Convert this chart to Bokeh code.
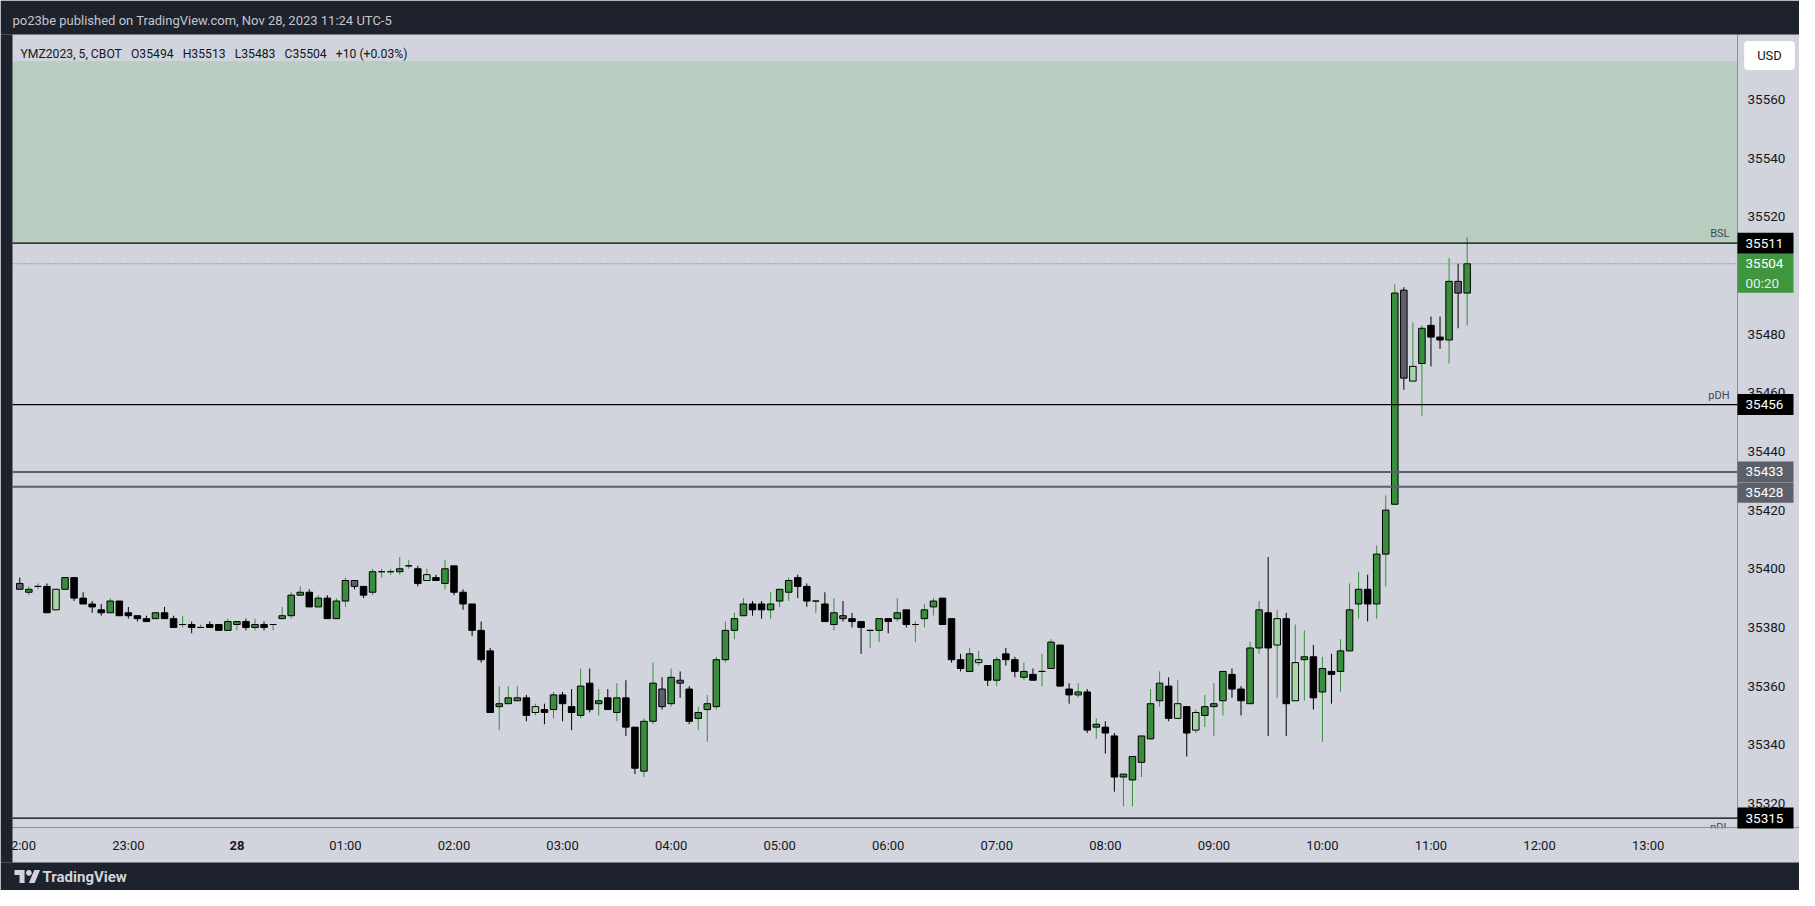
import numpy as np
import pandas as pd
from bokeh.plotting import figure
from bokeh.models import (ColumnDataSource, BoxAnnotation, Label, PolyAnnotation,
                          FixedTicker, DatetimeTickFormatter, Range1d)
from bokeh.core.properties import value
from bokeh.embed import file_html
from bokeh.resources import INLINE

# ---------------- data (YM Dec 2023, 5-minute bars) ----------------
open_p = [35395, 35392, 35394, 35394, 35386, 35393, 35397, 35390, 35388, 35386,
          35385, 35389, 35385, 35384, 35383, 35383, 35385, 35383, 35381, 35381,
          35380, 35381, 35381, 35379, 35381, 35382, 35380, 35381, 35381, 35383,
          35384, 35391, 35392, 35387, 35390, 35383, 35389, 35396, 35394, 35392,
          35399, 35399, 35399, 35401, 35400, 35396, 35397, 35395, 35401, 35392,
          35388, 35379, 35372, 35353, 35354, 35355, 35356, 35351, 35352, 35352,
          35357, 35353, 35350, 35361, 35354, 35356, 35351, 35356, 35346, 35331,
          35348, 35359, 35354, 35362, 35359, 35349, 35352, 35353, 35369, 35379,
          35384, 35388, 35388, 35386, 35389, 35392, 35397, 35394, 35389, 35388,
          35381, 35384, 35383, 35382, 35379, 35379, 35383, 35383, 35386, 35381,
          35383, 35387, 35390, 35383, 35369, 35365, 35368, 35367, 35362, 35371,
          35369, 35363, 35364, 35365, 35366, 35374, 35359, 35357, 35358, 35346,
          35346, 35343, 35329, 35328, 35334, 35342, 35355, 35360, 35349, 35353,
          35345, 35350, 35353, 35355, 35364, 35359, 35354, 35373, 35385, 35374,
          35383, 35355, 35369, 35370, 35358, 35365, 35365, 35372, 35388, 35393,
          35388, 35405, 35422, 35495, 35464, 35470, 35483, 35479, 35478, 35498,
          35494]
high_p = [35397, 35394, 35395, 35395, 35393, 35397, 35397, 35392, 35389, 35388,
          35390, 35389, 35387, 35384, 35384, 35385, 35387, 35384, 35384, 35382,
          35381, 35382, 35381, 35383, 35382, 35383, 35383, 35382, 35381, 35387,
          35392, 35394, 35393, 35391, 35391, 35390, 35397, 35396, 35394, 35400,
          35400, 35400, 35404, 35403, 35401, 35400, 35398, 35403, 35401, 35393,
          35388, 35382, 35373, 35360, 35360, 35360, 35357, 35354, 35354, 35358,
          35358, 35359, 35366, 35366, 35359, 35359, 35361, 35362, 35346, 35349,
          35368, 35363, 35366, 35365, 35360, 35353, 35357, 35370, 35382, 35385,
          35390, 35389, 35389, 35392, 35393, 35397, 35398, 35395, 35389, 35392,
          35390, 35389, 35385, 35382, 35379, 35383, 35383, 35390, 35386, 35382,
          35388, 35390, 35390, 35383, 35371, 35373, 35372, 35367, 35370, 35373,
          35370, 35368, 35366, 35371, 35376, 35374, 35361, 35361, 35359, 35349,
          35348, 35344, 35330, 35336, 35343, 35359, 35365, 35363, 35362, 35353,
          35352, 35357, 35361, 35365, 35366, 35360, 35375, 35389, 35404, 35386,
          35385, 35381, 35379, 35374, 35370, 35371, 35376, 35395, 35399, 35398,
          35408, 35425, 35497, 35496, 35484, 35483, 35486, 35486, 35506, 35504,
          35513]
low_p = [35393, 35391, 35393, 35385, 35386, 35393, 35389, 35388, 35385, 35384,
         35385, 35384, 35383, 35382, 35382, 35383, 35383, 35380, 35380, 35378,
         35380, 35380, 35379, 35379, 35379, 35379, 35379, 35379, 35379, 35383,
         35383, 35391, 35387, 35387, 35383, 35383, 35387, 35393, 35390, 35391,
         35397, 35398, 35398, 35400, 35394, 35396, 35396, 35393, 35391, 35386,
         35377, 35368, 35351, 35345, 35354, 35355, 35348, 35350, 35347, 35349,
         35348, 35345, 35349, 35351, 35350, 35352, 35348, 35343, 35330, 35329,
         35347, 35352, 35353, 35356, 35347, 35345, 35341, 35352, 35368, 35376,
         35384, 35384, 35383, 35383, 35387, 35389, 35390, 35387, 35385, 35382,
         35379, 35382, 35380, 35371, 35373, 35375, 35378, 35382, 35380, 35375,
         35380, 35384, 35381, 35368, 35365, 35365, 35367, 35360, 35360, 35367,
         35363, 35362, 35362, 35360, 35366, 35360, 35354, 35356, 35344, 35342,
         35337, 35324, 35319, 35319, 35329, 35342, 35353, 35348, 35349, 35336,
         35344, 35346, 35343, 35350, 35356, 35350, 35354, 35371, 35343, 35356,
         35343, 35355, 35355, 35352, 35341, 35354, 35358, 35372, 35383, 35382,
         35383, 35394, 35422, 35461, 35464, 35452, 35469, 35475, 35470, 35482,
         35483]
close_p = [35393, 35393, 35394, 35385, 35393, 35397, 35390, 35388, 35387, 35385,
           35389, 35384, 35384, 35383, 35382, 35385, 35383, 35380, 35381, 35380,
           35380, 35380, 35379, 35382, 35382, 35380, 35381, 35380, 35381, 35384,
           35391, 35392, 35387, 35390, 35383, 35389, 35396, 35394, 35391, 35399,
           35399, 35399, 35400, 35401, 35395, 35398, 35396, 35400, 35392, 35388,
           35379, 35369, 35351, 35354, 35356, 35356, 35350, 35353, 35351, 35357,
           35354, 35351, 35360, 35352, 35355, 35352, 35356, 35346, 35332, 35348,
           35361, 35353, 35363, 35361, 35348, 35351, 35354, 35369, 35379, 35383,
           35388, 35386, 35386, 35388, 35393, 35396, 35394, 35389, 35389, 35382,
           35385, 35383, 35382, 35380, 35379, 35383, 35382, 35385, 35381, 35381,
           35386, 35389, 35381, 35369, 35366, 35371, 35369, 35362, 35369, 35369,
           35365, 35365, 35362, 35365, 35375, 35360, 35357, 35358, 35345, 35347,
           35344, 35329, 35330, 35336, 35343, 35354, 35361, 35349, 35354, 35344,
           35351, 35353, 35354, 35365, 35359, 35355, 35373, 35386, 35373, 35383,
           35354, 35368, 35370, 35356, 35366, 35364, 35372, 35386, 35393, 35388,
           35405, 35420, 35494, 35465, 35469, 35482, 35479, 35478, 35498, 35494,
           35504]

first_bar = "2023-11-27 22:00"
bar_freq = "5min"
symbol_text = "YMZ2023, 5, CBOT"
header_text = "po23be published on TradingView.com, Nov 28, 2023 11:24 UTC-5"
countdown_text = "00:20"
currency_text = "USD"
brand_text = "TradingView"

bsl_level = 35511
pdh_level = 35456
level_a = 35433
level_b = 35428
pdl_level = 35315
zone_top = 35573

price_ticks = [35320, 35340, 35360, 35380, 35400, 35420, 35440, 35460,
               35480, 35500, 35520, 35540, 35560]
hour_first = "2023-11-27 22:00"
hour_last = "2023-11-28 13:00"
day_label = "28"

# ---------------- derived ----------------
o = np.array(open_p, float); h = np.array(high_p, float)
l = np.array(low_p, float); c = np.array(close_p, float)
times = pd.date_range(first_bar, periods=len(o), freq=bar_freq)
epoch = pd.Timestamp("1970-01-01")
def ms(ts):
    return float((pd.Timestamp(ts) - epoch) / pd.Timedelta("1ms"))
bar_ms = pd.Timedelta(bar_freq) / pd.Timedelta("1ms")
x0 = ms(times[0])

UP, UP_IN, DN, DN_IN = "#388e3c", "#a5d6a7", "#000000", "#5d606b"
up = c >= o
prev_h = np.concatenate([[np.inf], h[:-1]])
prev_l = np.concatenate([[-np.inf], l[:-1]])
inside = (h < prev_h) & (l > prev_l)
fill = np.where(up, np.where(inside, UP_IN, UP), np.where(inside, DN_IN, DN))
wick = np.where(up, UP, DN)
src = ColumnDataSource(dict(x=times, top=np.maximum(o, c), bottom=np.minimum(o, c),
                            high=h, low=l, fill=fill, wick=wick))

# ---------------- page geometry (pixels) ----------------
W, H = 1799, 890
CH_L, CH_R, CH_T, CH_B = 12, 1737, 34, 827      # chart pane
PANE_B = 862                                    # bottom of time-scale row
PX_PER_BAR, BAR0_PX = 9.046, 19.3
PX_PER_PT, REF_PT, REF_PX = 2.933, 35560, 99

def xd(px):
    return x0 + (px - BAR0_PX) / PX_PER_BAR * bar_ms
def yd(py):
    return REF_PT - (py - REF_PX) / PX_PER_PT
def py_of(price):
    return REF_PX + (REF_PT - price) * PX_PER_PT
def sy(py):
    return H - py

DARK = "#1e222d"
PANEL = "#d1d4dc"
TXT = "#131722"
FONT = "Roboto"
TAG_GREEN = "#3f963f"
GRAY = "#5d606b"

p = figure(width=W, height=H, x_axis_type="datetime", y_axis_location="right",
           output_backend="svg", toolbar_location=None,
           x_range=Range1d(xd(0), xd(W)), y_range=Range1d(yd(H), yd(0)),
           min_border=0)
p.background_fill_color = PANEL
p.border_fill_color = PANEL
p.outline_line_color = None
p.xgrid.visible = False
p.ygrid.visible = False

# price scale (drawn at the pane edge)
p.yaxis.fixed_location = xd(CH_R)
p.yaxis.ticker = FixedTicker(ticks=price_ticks)
p.yaxis.major_tick_line_color = None
p.yaxis.minor_tick_line_color = None
p.yaxis.major_tick_out = 0
p.yaxis.major_tick_in = 0
p.yaxis.axis_line_color = None
p.yaxis.major_label_text_font = FONT
p.yaxis.major_label_text_font_size = "13.5px"
p.yaxis.major_label_text_color = TXT
p.yaxis.major_label_standoff = 10

# time scale
hours = pd.date_range(hour_first, hour_last, freq="1h")
midnight = pd.Timestamp(hour_last).normalize()
p.xaxis.fixed_location = yd(CH_B)
p.xaxis.ticker = FixedTicker(ticks=[ms(t) for t in hours if t != midnight])
p.xaxis.formatter = DatetimeTickFormatter(hours="%H:%M", hourmin="%H:%M", minutes="%H:%M",
                                          days="%H:%M", months="%H:%M")
p.xaxis.major_tick_line_color = None
p.xaxis.minor_tick_line_color = None
p.xaxis.major_tick_out = 0
p.xaxis.major_tick_in = 0
p.xaxis.axis_line_color = "#8c8f99"
p.xaxis.major_label_text_font = FONT
p.xaxis.major_label_text_font_size = "13px"
p.xaxis.major_label_text_color = TXT
p.xaxis.major_label_standoff = 10

# zone above BSL
p.add_layout(BoxAnnotation(left=xd(CH_L), right=xd(CH_R), bottom=bsl_level, top=zone_top,
                           fill_color="#b6cdc0", fill_alpha=1, line_alpha=0, level="underlay"))

# pane separator
p.segment(x0=[xd(CH_R)], y0=[yd(CH_T)], x1=[xd(CH_R)], y1=[yd(CH_B)],
          line_color="#8c8f99", line_width=1)

# candles
p.segment(x0="x", y0="high", x1="x", y1="low", line_color="wick", line_width=1, source=src)
p.vbar(x="x", width=bar_ms * 0.72, top="top", bottom="bottom", fill_color="fill",
       line_color="black", line_width=1, source=src)

# horizontal levels
lv = [bsl_level, pdh_level, level_a, level_b, pdl_level]
lv_col = ["black", "black", GRAY, GRAY, "black"]
lv_w = [1.2, 1.2, 2, 2, 1.2]
p.segment(x0=[xd(CH_L)] * 5, x1=[xd(CH_R)] * 5, y0=lv, y1=lv, line_color=lv_col, line_width=lv_w)
p.segment(x0=[xd(CH_L)], x1=[xd(CH_R)], y0=[c[-1]], y1=[c[-1]], line_color=UP, line_width=1,
          line_dash="1 2")

# level names
for txt, lvl, base, off in [("BSL", bsl_level, "bottom", -3), ("pDH", pdh_level, "bottom", -3),
                            ("pDL", pdl_level, "top", 3)]:
    p.text(x=[xd(CH_R)], y=[lvl], text=[txt], text_align="right", text_baseline=base,
           x_offset=-8, y_offset=off, text_font=value(FONT), text_font_size="11px",
           text_color="#434651")
# the pane edge hides the lower part of the pDL name
p.add_layout(BoxAnnotation(left=CH_R - 40, right=CH_R, bottom=sy(PANE_B), top=sy(CH_B + 1),
                           left_units="screen", right_units="screen",
                           bottom_units="screen", top_units="screen",
                           fill_color=PANEL, fill_alpha=1, line_alpha=0))

# dark page frame
def dark_box(left, right, bottom, top):
    p.add_layout(BoxAnnotation(left=left, right=right, bottom=bottom, top=top,
                               left_units="screen", right_units="screen",
                               bottom_units="screen", top_units="screen",
                               fill_color=DARK, fill_alpha=1, line_alpha=0))
dark_box(0, W, sy(CH_T), H)                 # header
dark_box(0, W, 0, sy(PANE_B))               # footer
dark_box(0, CH_L, sy(PANE_B), sy(CH_T))     # left strip

# price tags on the scale (boxes + texts, drawn above the scale labels)
TAG_W = 56
last = c[-1]
box_cy = [py_of(bsl_level), py_of(last) + 9.5, py_of(pdh_level), py_of(level_a),
          py_of(level_b) + 6, py_of(pdl_level)]
box_h = [21, 39, 21, 21, 20, 21]
box_col = ["black", TAG_GREEN, "black", GRAY, GRAY, "black"]
p.rect(x=[xd(CH_R + TAG_W / 2)] * len(box_cy), y=[yd(v) for v in box_cy],
       width=[TAG_W] * len(box_cy), height=box_h, width_units="screen", height_units="screen",
       fill_color=box_col, line_color=None, level="annotation")
tag_txt = [str(bsl_level), str(int(last)), countdown_text, str(pdh_level), str(level_a),
           str(level_b), str(pdl_level)]
tag_cy = [py_of(bsl_level), py_of(last), py_of(last) + 19, py_of(pdh_level), py_of(level_a),
          py_of(level_b) + 6, py_of(pdl_level)]
tag_col = ["white", "white", "#e3efe3", "white", "white", "white", "white"]
p.text(x=[xd(CH_R + 8)] * len(tag_txt), y=[yd(v) for v in tag_cy], text=tag_txt,
       text_color=tag_col, text_align="left", text_baseline="middle",
       text_font=value(FONT), text_font_size="13.5px", level="annotation")

# currency button
p.add_layout(Label(x=1769, y=sy(55), x_units="screen", y_units="screen", text=currency_text,
                   text_color=TXT, text_font=FONT, text_font_size="13px",
                   text_align="center", text_baseline="middle",
                   background_fill_color="white", padding={"x": 13, "y": 7},
                   border_radius=4))

# day label (bold) on time scale
p.add_layout(Label(x=ms(midnight), y=sy(845), x_units="data", y_units="screen", text=day_label,
                   text_color=TXT, text_font=FONT, text_font_size="13px",
                   text_font_style="bold", text_align="center", text_baseline="middle"))

# header + legend
p.add_layout(Label(x=12, y=sy(20), x_units="screen", y_units="screen", text=header_text,
                   text_color="#c3c6ce", text_font=FONT, text_font_size="13px",
                   text_align="left", text_baseline="middle"))
chg = c[-1] - c[-2]
GAP = "\u00a0\u00a0 "
legend_text = GAP.join([symbol_text, f"O{int(o[-1])}", f"H{int(h[-1])}", f"L{int(l[-1])}",
                        f"C{int(c[-1])}",
                        f"{int(chg):+d} ({chg / c[-2] * 100:+.2f}%)"])
p.add_layout(Label(x=20, y=sy(53), x_units="screen", y_units="screen", text=legend_text,
                   text_color=TXT, text_font=FONT, text_font_size="12.2px",
                   text_align="left", text_baseline="middle"))

# TradingView logo (footer)
FOOT_CY = 876
def lx(u):
    return 14 + u * 0.72
def ly(v):
    return sy(FOOT_CY - 6.5 + (v - 4) * 0.72)
LOGO = "#d1d4dc"
shape1 = [(0, 4), (14, 4), (14, 22), (7, 22), (7, 11), (0, 11)]
shape2 = [(20, 22), (27.5, 4), (35.5, 4), (28, 22)]
ang = np.linspace(0, 2 * np.pi, 24, endpoint=False)
dot = [(20 + 4 * np.cos(a), 8 + 4 * np.sin(a)) for a in ang]
for shp in (shape1, shape2, dot):
    p.add_layout(PolyAnnotation(xs=[lx(u) for u, v in shp], ys=[ly(v) for u, v in shp],
                                xs_units="screen", ys_units="screen",
                                fill_color=LOGO, fill_alpha=1, line_alpha=0))
p.add_layout(Label(x=42, y=sy(FOOT_CY), x_units="screen", y_units="screen", text=brand_text,
                   text_color=LOGO, text_font=FONT, text_font_size="15px",
                   text_font_style="bold", text_align="left", text_baseline="middle"))

open("out.html", "w").write(file_html(p, INLINE))
